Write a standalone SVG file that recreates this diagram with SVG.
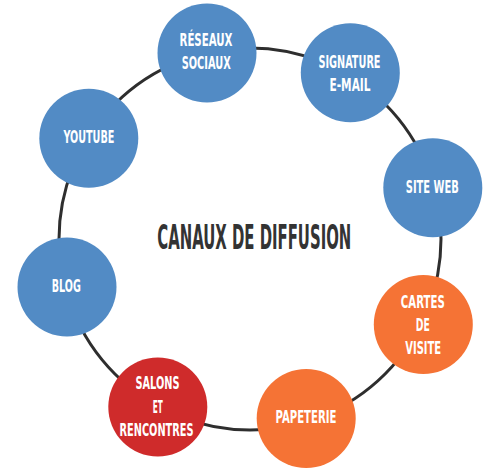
<svg xmlns="http://www.w3.org/2000/svg" width="500" height="472" viewBox="0 0 500 472">
<style>
.ring{fill:none;stroke:#2e2e2e;stroke-width:3}
.blue{fill:#528BC5}
.orange{fill:#F57335}
.red{fill:#CF2B2B}
.lbl{font-family:"DejaVu Sans Condensed","DejaVu Sans",sans-serif;font-weight:bold;font-size:17px;fill:#ffffff}
.title{font-family:"DejaVu Sans Condensed","DejaVu Sans",sans-serif;font-weight:bold;font-size:34px;fill:#333333}
</style>
<rect width="500" height="472" fill="#ffffff"/>
<g id="connectors">
<circle class="ring" cx="250" cy="239" r="191"/>
</g>
<g id="title" transform="translate(157.3,248.5) scale(0.5,1)">
<text class="title" x="0" y="0" textLength="388" lengthAdjust="spacingAndGlyphs">CANAUX DE DIFFUSION</text>
</g>
<g id="reseaux-sociaux">
<circle class="blue" cx="207" cy="53" r="49.5"/>
<text class="lbl" x="179.5" y="45.5" textLength="53" lengthAdjust="spacingAndGlyphs">RÉSEAUX</text>
<text class="lbl" x="181.7" y="68.5" textLength="49" lengthAdjust="spacingAndGlyphs">SOCIAUX</text>
</g>
<g id="signature-email">
<circle class="blue" cx="350.3" cy="72.8" r="49.5"/>
<text class="lbl" x="318.5" y="68" textLength="62" lengthAdjust="spacingAndGlyphs">SIGNATURE</text>
<text class="lbl" x="329.5" y="91.3" textLength="41" lengthAdjust="spacingAndGlyphs">E-MAIL</text>
</g>
<g id="site-web">
<circle class="blue" cx="432.8" cy="187.8" r="49.5"/>
<text class="lbl" x="405.8" y="192.5" textLength="53" lengthAdjust="spacingAndGlyphs">SITE WEB</text>
</g>
<g id="cartes-de-visite">
<circle class="orange" cx="423.3" cy="324.5" r="49.5"/>
<text class="lbl" x="400.8" y="307.5" textLength="44" lengthAdjust="spacingAndGlyphs">CARTES</text>
<text class="lbl" x="415.8" y="331" textLength="14" lengthAdjust="spacingAndGlyphs">DE</text>
<text class="lbl" x="405.2" y="354" textLength="36" lengthAdjust="spacingAndGlyphs">VISITE</text>
</g>
<g id="papeterie">
<circle class="orange" cx="306.2" cy="418.5" r="49.5"/>
<text class="lbl" x="275.5" y="423.2" textLength="61" lengthAdjust="spacingAndGlyphs">PAPETERIE</text>
</g>
<g id="salons-et-rencontres">
<circle class="red" cx="157.8" cy="407" r="49.5"/>
<text class="lbl" x="135.5" y="389" textLength="44" lengthAdjust="spacingAndGlyphs">SALONS</text>
<text class="lbl" x="152.8" y="412.6" textLength="10" lengthAdjust="spacingAndGlyphs">ET</text>
<text class="lbl" x="119.5" y="436" textLength="74" lengthAdjust="spacingAndGlyphs">RENCONTRES</text>
</g>
<g id="blog">
<circle class="blue" cx="67" cy="287" r="49.5"/>
<text class="lbl" x="51.8" y="292" textLength="29" lengthAdjust="spacingAndGlyphs">BLOG</text>
</g>
<g id="youtube">
<circle class="blue" cx="88.8" cy="138.3" r="49.5"/>
<text class="lbl" x="63.4" y="143.2" textLength="51" lengthAdjust="spacingAndGlyphs">YOUTUBE</text>
</g>
</svg>
